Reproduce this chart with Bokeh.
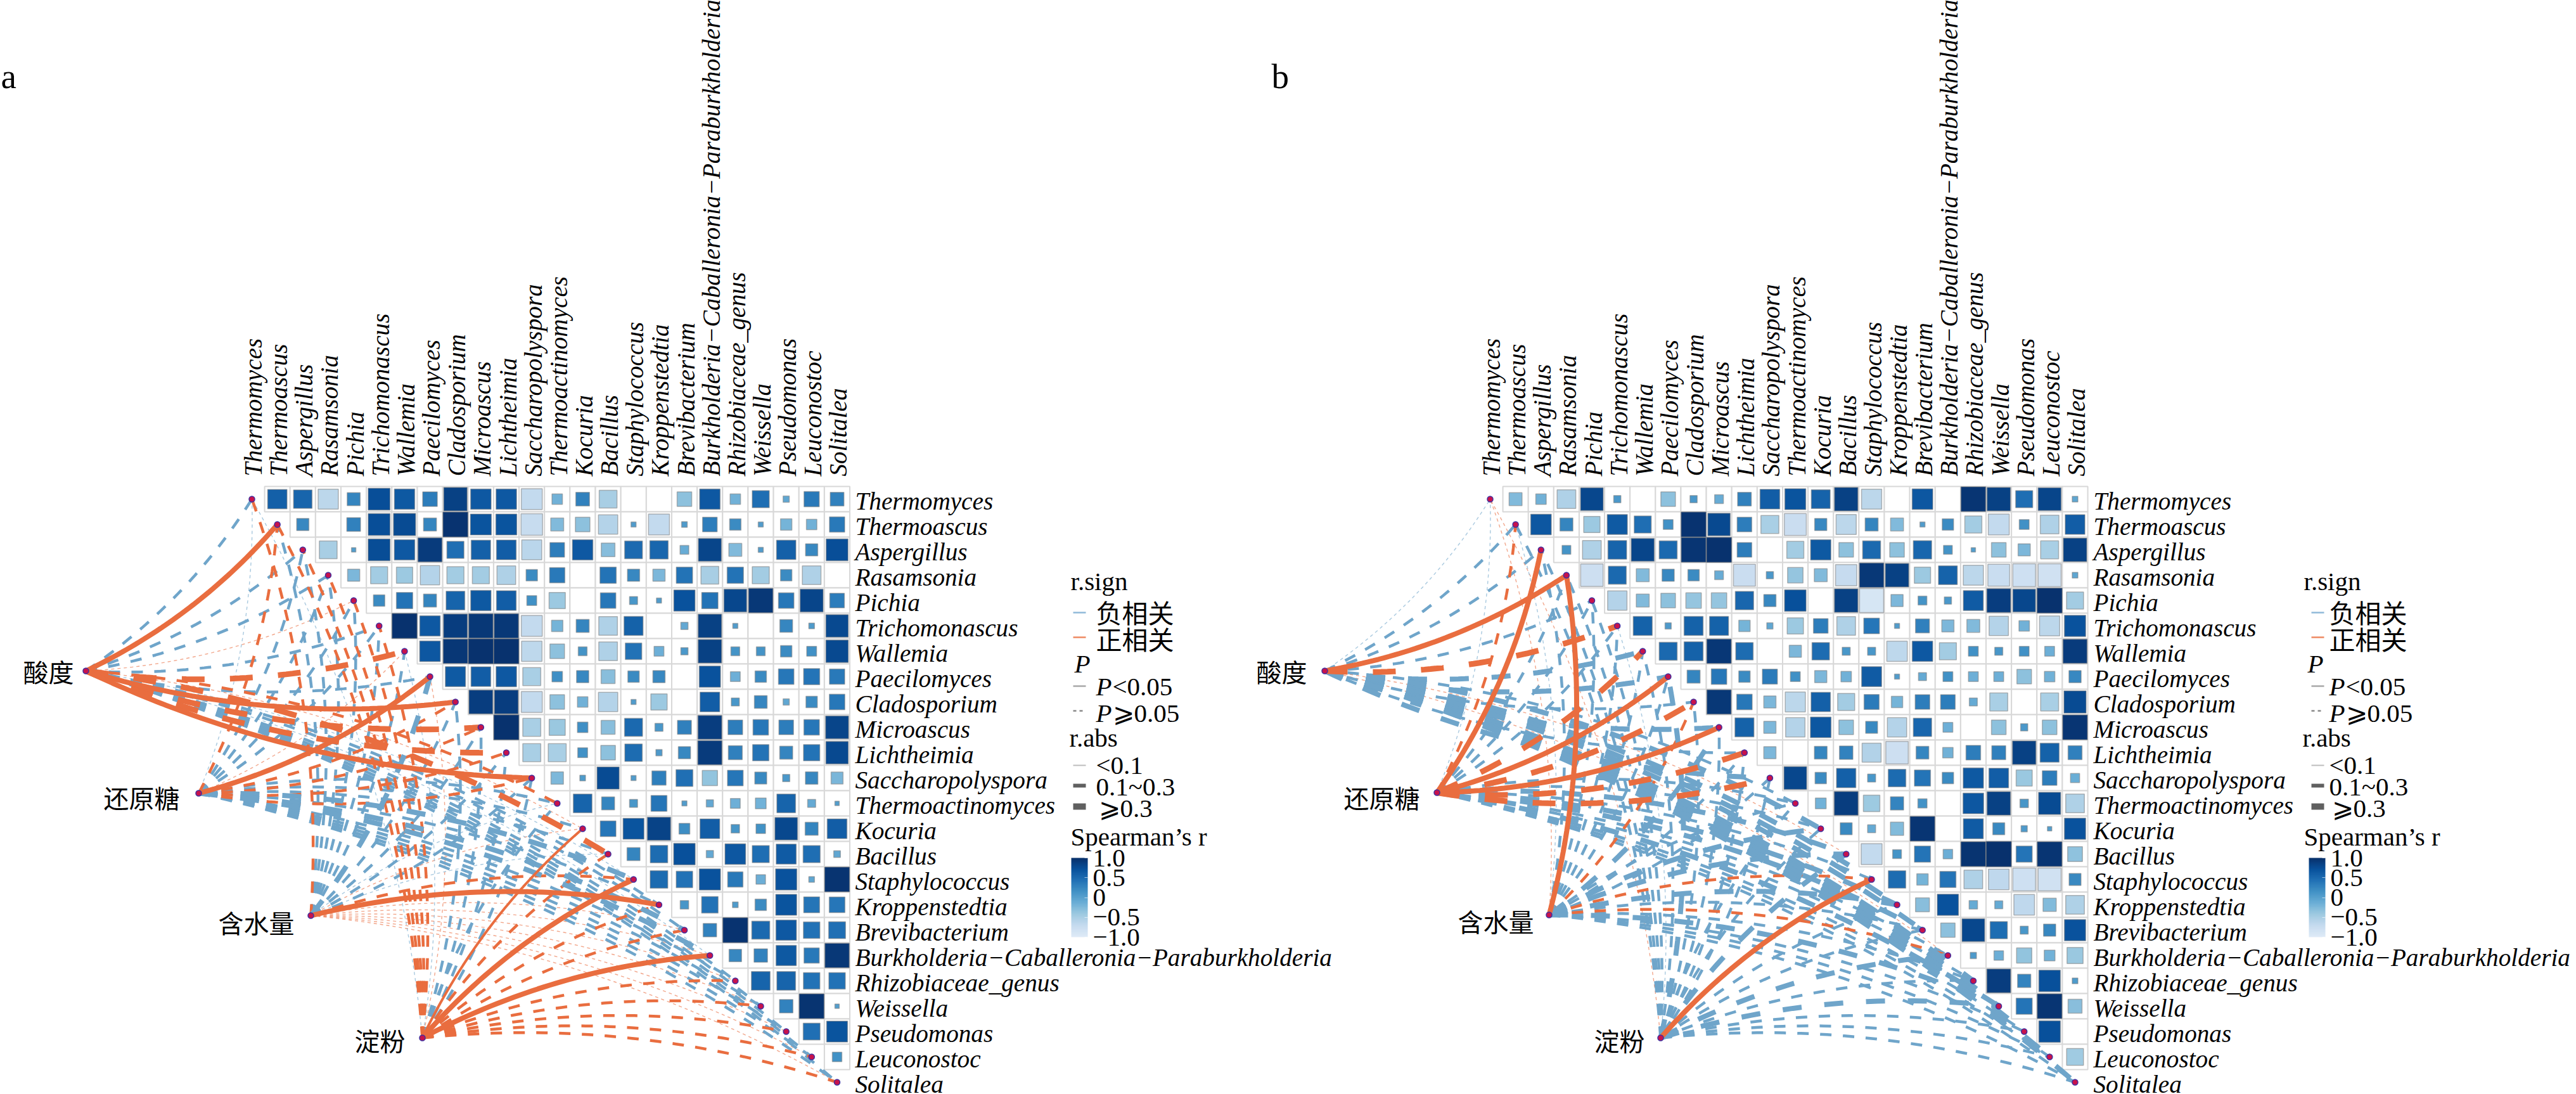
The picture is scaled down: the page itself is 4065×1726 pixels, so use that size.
import math
from bokeh.plotting import figure
from bokeh.models import ColumnDataSource, LinearColorMapper, ColorBar, FixedTicker, AllLabels
from bokeh.core.properties import value
from bokeh.palettes import Blues256
from bokeh.embed import file_html
from bokeh.resources import INLINE

taxa = ["Thermomyces", "Thermoascus", "Aspergillus", "Rasamsonia", "Pichia", "Trichomonascus", "Wallemia",
        "Paecilomyces", "Cladosporium", "Microascus", "Lichtheimia", "Saccharopolyspora", "Thermoactinomyces",
        "Kocuria", "Bacillus", "Staphylococcus", "Kroppenstedtia", "Brevibacterium",
        "Burkholderia\u2212Caballeronia\u2212Paraburkholderia", "Rhizobiaceae_genus", "Weissella", "Pseudomonas",
        "Leuconostoc", "Solitalea"]
env_names = ["酸度", "还原糖", "含水量", "淀粉"]

# Spearman r, upper triangle, row i holds columns i+1..23
r_a = [
 [.58,.53,-.63,.26,.74,.64,.33,.85,.65,.65,-.68,-.17,.29,-.49,0,0,-.33,.65,-.17,.45,-.06,.36,.29],
 [.23,0,.29,.74,.76,.26,.97,.68,.68,-.72,-.26,-.33,-.58,.04,-.68,.05,.33,.2,.04,-.2,-.17,.36],
 [-.49,.03,.75,.65,.9,.45,.58,.6,-.62,.33,.65,-.29,.49,.52,-.12,.82,-.26,.04,.58,.23,.74],
 [-.23,-.45,-.41,-.58,-.45,-.45,-.54,.2,.36,0,.41,.23,-.23,.41,-.49,.41,-.45,.2,-.54,0],
 [.2,.41,.26,.54,.64,.6,.15,-.41,0,.37,.1,.04,.7,.41,.8,.92,.37,.82,.33],
 [.98,.65,.88,.92,.92,-.68,-.2,.26,-.54,.56,0,-.08,.85,.04,0,.25,.05,.78],
 [.66,.93,.98,.98,-.65,-.33,.12,-.54,.42,-.15,.08,.85,.12,.12,.2,.15,.78],
 [.63,.6,.65,-.5,.17,.23,-.3,.2,.23,0,.7,-.15,.2,.37,.4,.36],
 [.88,.88,-.68,-.33,-.17,-.58,.04,-.41,0,.6,.1,.25,-.06,.2,.37],
 [.98,-.5,-.4,.17,-.3,.5,.1,.3,.88,.33,.37,.33,.37,.82],
 [-.5,-.5,.15,-.33,.47,.06,.23,.9,.3,.41,.26,.41,.78],
 [-.24,.05,.76,.04,.31,.44,-.36,.38,.22,.08,.24,-.22],
 [.54,.26,.1,.39,.04,-.08,-.15,-.18,.54,-.1,.03],
 [.38,.68,.84,.18,.6,.11,.14,.79,.26,.6],
 [.26,.47,.72,-.08,.66,.45,.62,.45,-.07],
 [.48,.42,.7,.36,-.14,.7,-.05,.96],
 [.11,.42,.05,.2,.68,.39,.38],
 [.28,.97,.5,.65,.42,.44],
 [.24,.28,.64,.36,.92],
 [.54,.54,.42,.42],
 [.28,.96,.03],
 [.44,.68],
 [.14],
]
r_b = [
 [-.26,-.17,-.54,.8,.08,0,-.33,.08,-.12,.29,.6,.68,.55,.85,-.63,0,.66,0,.95,.85,.45,.82,-.05],
 [.66,.26,-.41,.63,.45,.15,.97,.78,.33,-.5,-.75,.23,-.63,.26,-.26,.04,.2,-.45,-.68,.15,-.54,.6],
 [.12,-.54,.54,.82,.5,.95,.98,.33,0,-.45,.64,-.33,.5,-.33,.52,.12,.03,-.33,-.23,-.5,.85],
 [-.78,.5,-.26,.23,.2,-.12,-.75,.08,-.37,-.26,-.7,.92,.85,-.41,.55,-.63,-.74,-.8,-.82,-.05],
 [-.58,-.26,-.33,-.37,-.37,.52,.23,.72,0,.85,-.9,-.23,.12,.08,.62,.88,.8,.98,-.45],
 [.56,.06,.56,.56,-.2,-.06,-.41,.33,-.54,.38,.04,.3,-.23,-.26,-.58,-.17,-.63,.7],
 [.5,.56,.93,.47,0,-.23,.47,.1,.1,-.65,.65,-.45,.15,.1,.15,-.15,.9],
 [.26,.37,.2,.35,.15,-.23,-.17,.62,.04,-.1,.15,-.15,-.15,-.33,-.17,.23],
 [.92,.37,-.23,-.63,.58,-.45,.35,-.2,.33,.33,-.1,-.5,0,-.5,.76],
 [.56,-.23,-.58,.66,-.33,.22,-.58,.52,-.15,0,-.33,.08,-.33,.95],
 [-.23,0,.25,.28,-.56,-.78,.25,-.17,.33,.3,.85,.56,.3],
 [.8,.2,.58,.1,.48,.4,.2,.64,.6,-.4,.33,-.13],
 [-.18,.88,-.42,.27,.13,0,.66,.85,.11,.76,-.54],
 [.22,-.1,-.27,.95,0,.62,.22,.06,.03,.7],
 [-.68,.12,.4,-.14,.96,.99,.4,.95,-.34],
 [.47,-.2,.4,-.54,-.66,-.8,-.82,.22],
 [-.3,.7,-.11,-.1,-.66,-.27,-.54],
 [-.32,.8,.46,.1,.23,.7],
 [.06,-.14,-.36,-.18,-.4],
 [.88,.27,.72,.05],
 [.4,.95,-.3],
 [.72,0],
 [-.44],
]

# link class per taxon (rows 0..23):
# p/n thin (<0.1, P>=0.05), P/N medium dashed, Q/M thick dashed, S medium solid, T thick solid
# upper-case P,Q,S,T and lower p = positive; N,M,n = negative
links_a_acid   = "NTNNpNQNTQQTPpQnNNnNNNNN"
links_a_sugar  = "nPNNNNpTPPPPNNNMNMMNNNNN"
links_a_water  = "PNNNNNNMNNNNnpnPTppppppp"
links_a_starch = "nPPPPPnpNNNNNSPTPPTPPPPP"
links_b_acid   = "nNNTNQMMNMNMNMpMMMpMMMMM"
links_b_sugar  = "nPTNNNQTQTQQNNMNMMNNMNNN"
links_b_water  = "pnNTNNNNPMNNNMMPMNPNMNNN"
links_b_starch = "pNNNNnNMNNNNNNMTNNMNMNNN"

cbar_ticks = [1.0, 0.5, 0, -0.5, -1.0]
cbar_labels = ["1.0", "0.5", "0", "\u22120.5", "\u22121.0"]

# ---------- layout ----------
W, H = 4060, 1726
ORANGE, BLUE = "#e96d3f", "#6fa5ca"
SERIF = "Liberation Serif"
CJK = "Noto Sans CJK SC"

p = figure(width=W, height=H, x_range=(0, W), y_range=(H, 0), output_backend="svg",
           toolbar_location=None, min_border=0, outline_line_color=None, x_axis_location=None, y_axis_location=None)
p.grid.visible = False
p.background_fill_color = "white"

mapper = LinearColorMapper(palette=list(reversed(Blues256[:225])), low=-1, high=1)


def txt(x, y, s, size, font=SERIF, style="normal", align="left", angle=0, baseline="middle", color="black"):
    p.text([x], [y], text=[s], text_font=value(font), text_font_size=f"{size}px", text_font_style=style,
           text_align=align, text_baseline=baseline, angle=angle, text_color=color)


STYLE = {
    "p": (ORANGE, 1.4, "5 5", .6), "n": (BLUE, 1.4, "5 5", .6),
    "P": (ORANGE, 4.5, "18 18", 1), "N": (BLUE, 4.5, "18 18", 1),
    "Q": (ORANGE, 9, "36 40", 1), "M": (BLUE, 8, "30 36", 1),
    "S": (ORANGE, 4, "solid", 1), "T": (ORANGE, 8, "solid", 1),
}
ORDER = "pnNPMQST"


def curve(x0, y0, x1, y1, sign):
    dx, dy = x1 - x0, y1 - y0
    cx = (x0 + x1) / 2 - dy * 0.105 * sign
    cy = (y0 + y1) / 2 + dx * 0.105 * sign
    ts = [k / 48 for k in range(49)]
    return ([(1 - t) ** 2 * x0 + 2 * t * (1 - t) * cx + t * t * x1 for t in ts],
            [(1 - t) ** 2 * y0 + 2 * t * (1 - t) * cy + t * t * y1 for t in ts])


def panel(x0, dx, r, link_sets, env_xy, env_lab, lab_x):
    y0, dy = 787, 40
    nx = [x0 + i * dx for i in range(24)]
    ny = [y0 + i * dy for i in range(24)]
    # cells
    gx, gy, sx, sy, sw, sr = [], [], [], [], [], []
    for i, row in enumerate(r):
        for k, v in enumerate(row):
            j = i + 1 + k
            gx.append(nx[j]); gy.append(ny[i])
            if v != 0:
                sx.append(nx[j]); sy.append(ny[i]); sw.append(math.sqrt(abs(v))); sr.append(v)
    p.rect(gx, gy, width=dx, height=dy, fill_color="white", line_color="#d8d8d8", line_width=2)
    src = ColumnDataSource(dict(x=sx, y=sy, w=[s * dx for s in sw], h=[s * dy for s in sw], r=sr))
    p.rect("x", "y", width="w", height="h", source=src, fill_color={"field": "r", "transform": mapper},
           line_color="#7f7f7f", line_alpha=.55, line_width=1.5)
    # links
    segs = {c: ([], []) for c in ORDER}
    for (ex, ey), codes in zip(env_xy, link_sets):
        for i, c in enumerate(codes):
            xs, ys = curve(ex, ey, nx[i], ny[i], 1 if i < 12 else -1)
            segs[c][0].append(xs); segs[c][1].append(ys)
    for c in ORDER:
        xs, ys = segs[c]
        if xs:
            col, w, dash, al = STYLE[c]
            p.multi_line(xs, ys, line_color=col, line_width=w, line_dash=dash, line_alpha=al, line_cap="butt")
    # nodes
    ax = nx + [e[0] for e in env_xy]
    ay = ny + [e[1] for e in env_xy]
    p.scatter(ax, ay, size=9, fill_color="#c7124c", line_color="#3f2f9f", line_width=1.5)
    # labels
    for i, t in enumerate(taxa):
        txt(lab_x, ny[i] + 3, t, 39.2, style="italic")
        txt(nx[i] + 2, 751, t, 39.2, style="italic", angle=math.pi / 2)
    for (lx, ly), s in zip(env_lab, env_names):
        txt(lx, ly, s, 40, font=CJK, align="right")


def legend(ox, kx, bx):
    # ox: text offset, kx: key offset
    txt(1689 + ox, 916, "r.sign", 41)
    txt(1729 + ox, 964, "负相关", 41, font=CJK)
    txt(1729 + ox, 1006, "正相关", 41, font=CJK)
    txt(1695 + ox, 1046, "P", 41, style="italic")
    txt(1729 + ox, 1082, "P", 41, style="italic")
    txt(1755 + ox, 1082, "<0.05", 41)
    txt(1729 + ox, 1124, "P", 41, style="italic")
    txt(1755 + ox, 1124, "\u2a7e0.05", 41)
    txt(1687 + ox, 1163, "r.abs", 41)
    txt(1729 + ox, 1206, "<0.1", 41)
    txt(1729 + ox, 1240, "0.1~0.3", 41)
    txt(1733 + ox, 1274, "\u2a7e0.3", 41)
    txt(1689 + ox, 1319, "Spearman\u2019s r", 41)
    keys = [(966, "#8fb9d9", 2.5, "solid"), (1005, "#ee8a62", 2.5, "solid"), (1082, "#a8a8a8", 2.5, "solid"),
            (1121, "#8a8a8a", 2.5, "5 5"), (1207, "#bdbdbd", 2, "solid"), (1239, "#606060", 6, "solid"),
            (1272, "#606060", 10, "solid")]
    for y, col, w, dash in keys:
        p.segment([1693 + kx], [y], [1713 + kx], [y], line_color=col, line_width=w, line_dash=dash, line_cap="butt")
    cb = ColorBar(color_mapper=mapper, location=(1690 + bx, H - 1478), width=26, height=125,
                  ticker=FixedTicker(ticks=cbar_ticks), major_label_policy=AllLabels(),
                  major_label_overrides={t: s for t, s in zip(cbar_ticks, cbar_labels)},
                  major_label_text_font=SERIF, major_label_text_font_size="41px", major_label_text_color="black",
                  major_tick_line_color="white", major_tick_line_alpha=.6, major_tick_in=5, major_tick_out=0,
                  minor_tick_line_color=None, bar_line_color=None, border_line_color=None, background_fill_color=None,
                  label_standoff=8, padding=0, margin=0)
    p.add_layout(cb, "center")


panel(397, 40.15, r_a, [links_a_acid, links_a_sugar, links_a_water, links_a_starch],
      [(135, 1058), (313, 1251), (490, 1444), (666, 1637)],
      [(116, 1058), (283, 1257), (464, 1454), (639, 1640)], 1349)
panel(2351, 40.13, r_b, [links_b_acid, links_b_sugar, links_b_water, links_b_starch],
      [(2090, 1058), (2267, 1250), (2444, 1443), (2620, 1637)],
      [(2062, 1058), (2240, 1257), (2420, 1452), (2595, 1640)], 3303)
legend(0, 0, 0)
legend(1946, 1954, 1953)

txt(1, 120, "a", 55, baseline="alphabetic")
txt(2006, 120, "b", 55, baseline="alphabetic")

open("out.html", "w").write(file_html(p, INLINE))
